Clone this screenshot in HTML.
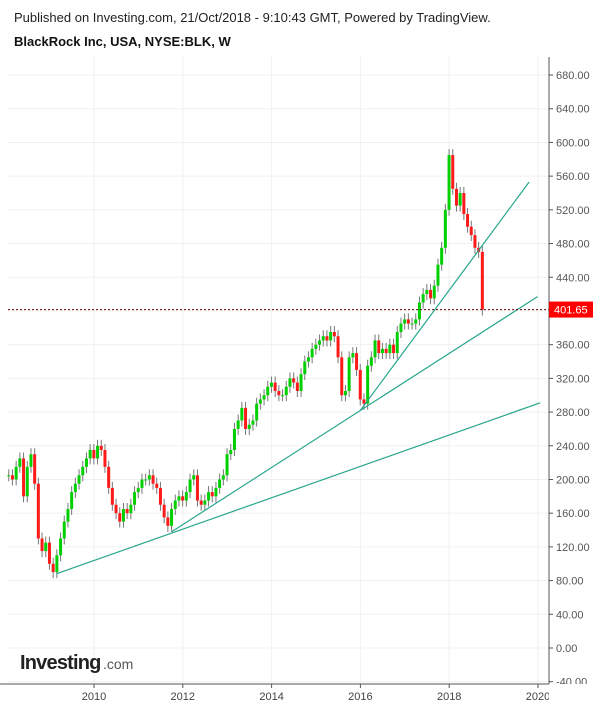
<!DOCTYPE html>
<html><head><meta charset="utf-8"><style>
body{margin:0;background:#fff;width:600px;height:708px;overflow:hidden;font-family:"Liberation Sans",sans-serif}
</style></head><body>
<svg id="c" width="600" height="708" xmlns="http://www.w3.org/2000/svg" style="display:block">
<defs><clipPath id="cy"><rect x="549" y="0" width="60" height="684"/></clipPath><clipPath id="cx"><rect x="0" y="684" width="549" height="30"/></clipPath></defs>
<text x="14" y="22" font-size="13" fill="#222">Published on Investing.com, 21/Oct/2018 - 9:10:43 GMT, Powered by TradingView.</text>
<text x="14" y="46" font-size="13" font-weight="bold" fill="#111">BlackRock Inc, USA, NYSE:BLK, W</text>
<g id="grid"></g><g id="marks"></g><g id="axes"></g><g id="ylab" clip-path="url(#cy)"></g><g id="xlab" clip-path="url(#cx)"></g><g id="badge"></g>
<g><text x="20" y="669" font-size="20" font-weight="bold" fill="#222" letter-spacing="-0.8">Investing</text><text x="103" y="669" font-size="14" fill="#555">.com</text></g>
</svg>
<script>
const yTicks=[-40,0,40,80,120,160,200,240,280,320,360,400,440,480,520,560,600,640,680];
const xTicks=[2010,2012,2014,2016,2018,2020];
const startYear=2008.08;
const closes=[205,200,215,225,180,215,230,195,130,115,125,
100,90,110,130,150,165,185,195,205,215,225,235,
225,240,235,215,190,170,160,150,165,160,170,185,
190,200,200,205,195,190,170,155,145,165,175,180,
175,185,200,205,175,170,175,185,180,190,200,205,
230,235,260,270,285,260,265,270,290,295,300,310,
315,305,300,300,310,320,315,305,325,340,345,355,
360,365,370,365,375,370,345,300,305,345,350,330,
295,290,335,345,365,350,355,350,360,350,375,385,
390,385,385,390,410,420,425,415,430,455,475,520,
585,545,525,540,515,500,490,475,470,401.65];
const lastPrice=401.65;
const trendLines=[[2009.15,88,2020.05,291],[2011.75,138,2019.99,417],[2016.0,282,2019.8,553]];
const NS="http://www.w3.org/2000/svg";
const X=y=>94+(y-2010)*44.4, Y=v=>648-0.8426*v;
const L=8,R=549,T=57,B=684;
function mk(t,a,p){const e=document.createElementNS(NS,t);for(const k in a)e.setAttribute(k,a[k]);p.appendChild(e);return e;}
const g=document.getElementById('grid'),m=document.getElementById('marks'),ax=document.getElementById('axes'),yl=document.getElementById('ylab'),xl=document.getElementById('xlab'),bg=document.getElementById('badge');
yTicks.forEach(v=>{const l=mk('line',{x1:L,x2:R,y1:Y(v),y2:Y(v),stroke:'#f0f0f0'},g);

mk('line',{x1:R,x2:R+4,y1:Y(v),y2:Y(v),stroke:'#555'},yl);
const t=mk('text',{x:R+7,y:Y(v)+4,'font-size':11,fill:'#555'},yl);t.textContent=v.toFixed(2);
});
xTicks.forEach(v=>{const l=mk('line',{x1:X(v),x2:X(v),y1:T,y2:B,stroke:'#f0f0f0'},g);

mk('line',{x1:X(v),x2:X(v),y1:B,y2:B+4,stroke:'#555'},xl);
const t=mk('text',{x:X(v),y:B+16,'font-size':11,fill:'#444','text-anchor':'middle'},xl);t.textContent=v;
});
mk('line',{x1:R,x2:R,y1:T,y2:B,stroke:'#555'},ax);
mk('line',{x1:0,x2:R,y1:B,y2:B,stroke:'#555'},ax);
closes.forEach((c,i)=>{const o=i?closes[i-1]:c;const x=X(startYear+i/12);
const hi=Math.max(o,c),lo=Math.min(o,c);
const w=mk('line',{x1:x,x2:x,y1:Y(hi)-6,y2:Y(lo)+6,stroke:'#777','stroke-width':1},m);

const b=mk('rect',{x:x-1.5,y:Y(hi),width:3,height:Math.max(1,Y(lo)-Y(hi)),fill:c>=o?'#00d000':'#ff1a1a'},m);
});
trendLines.forEach(t=>{const l=mk('line',{x1:X(t[0]),y1:Y(t[1]),x2:X(t[2]),y2:Y(t[3]),stroke:'#26a68c','stroke-width':1.2},m);
});
const pl=mk('line',{x1:L,x2:R,y1:Y(lastPrice),y2:Y(lastPrice),stroke:'#600','stroke-dasharray':'2,2'},m);

const pb=mk('rect',{x:R,y:Y(lastPrice)-8,width:44,height:16,fill:'#f00'},bg);

const pt=mk('text',{x:R+5,y:Y(lastPrice)+4,'font-size':11,fill:'#fff'},bg);pt.textContent=lastPrice.toFixed(2);

</script>
</body></html>
